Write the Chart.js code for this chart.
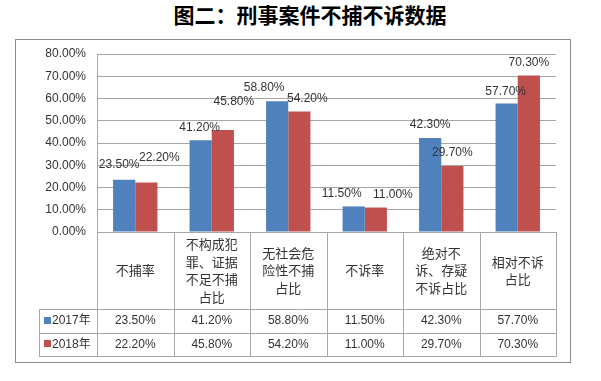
<!DOCTYPE html>
<html>
<head>
<meta charset="utf-8">
<script src="https://cdn.jsdelivr.net/npm/chart.js@4"></script>
<style>
body { margin: 0; background: #fff; width: 601px; height: 381px; overflow: hidden; position: relative; }
#title { position: absolute; left: 0; top: 1px; width: 620px; text-align: center; font: bold 21px/26px "Noto Sans CJK SC", sans-serif; color: #000; }
#frame { position: absolute; left: 15px; top: 39px; width: 554px; height: 322px; border: 1px solid #8c8c8c; }
#wrap { position: absolute; left: 0; top: 0; width: 601px; height: 381px; }
</style>
</head>
<body>
<div id="title">图二：刑事案件不捕不诉数据</div>
<div id="frame"></div>
<div id="wrap"><canvas id="chart"></canvas></div>
<script>
// categories (line-broken the way the table shows them)
const categories = [
    ["不捕率"],
    ["不构成犯", "罪、证据", "不足不捕", "占比"],
    ["无社会危", "险性不捕", "占比"],
    ["不诉率"],
    ["绝对不", "诉、存疑", "不诉占比"],
    ["相对不诉", "占比"]
];
const seriesNames = ["2017年", "2018年"];
const values2017 = [23.5, 41.2, 58.8, 11.5, 42.3, 57.7];
const values2018 = [22.2, 45.8, 54.2, 11.0, 29.7, 70.3];
const yMin = 0, yMax = 80, yStep = 10;

const colors = ["#4F81BD", "#C0504D"];
const gridColor = "#a6a6a6";
const textColor = "#333";
const numFont = '12px "Liberation Sans", Arial, "Noto Sans CJK SC", sans-serif';
const cjkFont = '13px "Noto Sans CJK SC", sans-serif';

// hand placement of the value labels, like in the original sheet
const labelShiftX = [[-5, -1, -13, -12, 0, -1], [13, 11, 8, 17, 0, 0]];
const labelShiftY = [[-2, 0, 0, 0, 0, 1], [-12, -15, 0, 0, 0, 0]];

function pct(v) {
    return v.toFixed(2) + "%";
}

const labelPlugin = {
    id: "barLabels",
    afterDatasetsDraw(chart) {
        const ctx = chart.ctx;
        ctx.save();
        ctx.font = numFont;
        ctx.fillStyle = textColor;
        ctx.textAlign = "center";
        ctx.textBaseline = "middle";
        chart.data.datasets.forEach((ds, di) => {
            chart.getDatasetMeta(di).data.forEach((bar, i) => {
                ctx.fillText(pct(ds.data[i]), bar.x + labelShiftX[di][i], bar.y - 13 + labelShiftY[di][i]);
            });
        });
        ctx.restore();
    }
};

const tablePlugin = {
    id: "dataTable",
    afterDraw(chart) {
        const ctx = chart.ctx;
        const area = chart.chartArea;
        const xs = chart.scales.x;
        const n = categories.length;
        const step = (area.right - area.left) / n;
        const headTop = Math.round(area.bottom);
        const headBottom = headTop + 77;
        const rowH = 23.5;
        const tableBottom = headBottom + rowH * 2;
        const legendLeft = 39;
        const snap = v => Math.round(v) + 0.5;

        ctx.save();
        ctx.strokeStyle = gridColor;
        ctx.lineWidth = 1;
        ctx.beginPath();
        for (let i = 0; i <= n; i++) {
            const x = snap(area.left + step * i);
            ctx.moveTo(x, headTop);
            ctx.lineTo(x, snap(tableBottom));
        }
        [headBottom, headBottom + rowH, tableBottom].forEach(y => {
            ctx.moveTo(legendLeft, snap(y));
            ctx.lineTo(snap(area.right), snap(y));
        });
        ctx.moveTo(snap(legendLeft), snap(headBottom));
        ctx.lineTo(snap(legendLeft), snap(tableBottom));
        ctx.stroke();

        // header cells
        ctx.fillStyle = textColor;
        ctx.textAlign = "center";
        ctx.textBaseline = "middle";
        ctx.font = cjkFont;
        const lineH = 17.6;
        const headMid = (headTop + headBottom) / 2;
        categories.forEach((lines, i) => {
            const cx = xs.getPixelForValue(i);
            const y0 = headMid - (lines.length - 1) * lineH / 2;
            lines.forEach((t, k) => ctx.fillText(t, cx, y0 + k * lineH));
        });

        // value rows
        const rows = [values2017, values2018];
        rows.forEach((vals, r) => {
            const cy = headBottom + rowH * r + rowH / 2;
            ctx.font = numFont;
            ctx.textAlign = "center";
            vals.forEach((v, i) => ctx.fillText(pct(v), xs.getPixelForValue(i), cy));
            ctx.fillStyle = colors[r];
            ctx.fillRect(44, Math.round(cy) - 4, 7, 7);
            ctx.fillStyle = textColor;
            ctx.textAlign = "left";
            ctx.fillText(seriesNames[r], 52, cy);
        });
        ctx.restore();
    }
};

const chartEl = document.getElementById("chart");
new Chart(chartEl, {
    type: "bar",
    data: {
        labels: categories,
        datasets: [
            { label: seriesNames[0], data: values2017, backgroundColor: colors[0] },
            { label: seriesNames[1], data: values2018, backgroundColor: colors[1] }
        ]
    },
    options: {
        responsive: true,
        maintainAspectRatio: false,
        animation: false,
        categoryPercentage: 0.58,
        barPercentage: 1,
        layout: { padding: { left: 0, top: 54, right: 45, bottom: 149 } },
        plugins: {
            legend: { display: false },
            tooltip: { enabled: false },
            title: { display: false }
        },
        scales: {
            x: { display: false },
            y: {
                min: yMin,
                max: yMax,
                afterFit: scale => { scale.width = 97; },
                ticks: {
                    stepSize: yStep,
                    padding: 11,
                    color: textColor,
                    font: { family: '"Liberation Sans", Arial, sans-serif', size: 12 },
                    callback: v => pct(v)
                },
                grid: { color: gridColor, drawTicks: false },
                border: { color: gridColor }
            }
        }
    },
    plugins: [labelPlugin, tablePlugin]
});
</script>
</body>
</html>
